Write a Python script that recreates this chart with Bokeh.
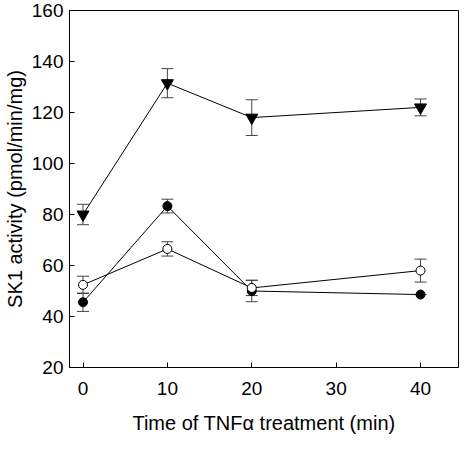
from bokeh.plotting import figure
from bokeh.models import ColumnDataSource, Whisker, Range1d, FixedTicker, TeeHead
from bokeh.embed import file_html
from bokeh.resources import INLINE

# Data
times = [0, 10, 20, 40]
tri_mean = [80.0, 131.5, 118.0, 122.0]
tri_err = [4.0, 5.7, 7.0, 3.3]
filled_mean = [45.6, 83.3, 50.0, 48.6]
filled_err = [3.6, 2.7, 4.2, 0.0]
open_mean = [52.4, 66.5, 51.2, 58.0]
open_err = [3.4, 2.8, 3.0, 4.5]
x_ticks = [0, 10, 20, 30, 40]
y_ticks = [20, 40, 60, 80, 100, 120, 140, 160]

FONT = "Liberation Sans"

p = figure(width=459, height=436, output_backend="svg", toolbar_location=None,
           x_range=Range1d(-1.6, 44.5), y_range=Range1d(20, 160),
           min_border_left=64, min_border_right=1, min_border_top=10, min_border_bottom=68)
p.grid.visible = False
p.outline_line_color = "black"
p.outline_line_width = 1
p.background_fill_color = "white"
p.border_fill_color = "white"

for ax in (p.xaxis[0], p.yaxis[0]):
    ax.axis_line_color = "black"
    ax.major_tick_line_color = "black"
    ax.major_tick_in = 5
    ax.major_tick_out = 0
    ax.minor_tick_line_color = None
    ax.major_label_text_font = FONT
    ax.major_label_text_font_size = "19px"
    ax.major_label_text_color = "black"
    ax.axis_label_text_font = FONT
    ax.axis_label_text_font_size = "20px"
    ax.axis_label_text_font_style = "normal"
    ax.axis_label_text_color = "black"

p.xaxis.ticker = FixedTicker(ticks=x_ticks)
p.yaxis.ticker = FixedTicker(ticks=y_ticks)
p.xaxis.axis_label = "Time of TNFα treatment (min)"
p.yaxis.axis_label = "SK1 activity (pmol/min/mg)"
p.xaxis.major_label_standoff = 14
p.xaxis.axis_label_standoff = 14
p.yaxis.major_label_standoff = 6
p.yaxis.axis_label_standoff = 3

series = [
    (tri_mean, tri_err, "inverted_triangle", "black", 12),
    (filled_mean, filled_err, "circle", "black", 9),
    (open_mean, open_err, "circle", "white", 9),
]

for mean, err, marker, fill, size in series:
    src = ColumnDataSource(dict(
        x=times, y=mean,
        upper=[m + e for m, e in zip(mean, err)],
        lower=[m - e for m, e in zip(mean, err)],
    ))
    w = Whisker(source=src, base="x", upper="upper", lower="lower",
                line_color="#444444", line_width=1,
                upper_head=TeeHead(size=12, line_color="#444444", line_width=1),
                lower_head=TeeHead(size=12, line_color="#444444", line_width=1))
    p.add_layout(w)
    p.line("x", "y", source=src, line_color="black", line_width=1)

for mean, err, marker, fill, size in series:
    src = ColumnDataSource(dict(x=times, y=mean))
    p.scatter("x", "y", source=src, marker=marker, size=size,
              fill_color=fill, line_color="black", line_width=1)

open("out.html", "w").write(file_html(p, INLINE))
